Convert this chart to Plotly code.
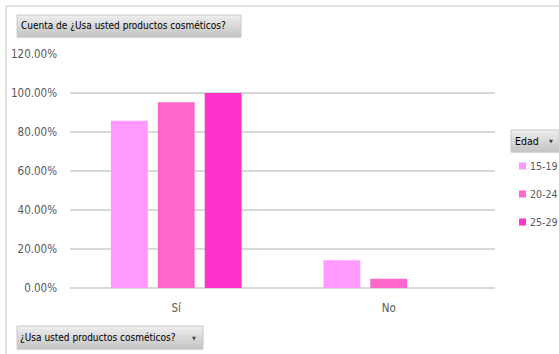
import plotly.graph_objects as go

categories = ["Sí", "No"]
series_names = ["15-19", "20-24", "25-29"]
values_15_19 = [85.71, 14.29]
values_20_24 = [95.24, 4.76]
values_25_29 = [100.0, 0.0]
tick_vals = [0, 20, 40, 60, 80, 100, 120]
tick_text = ["0.00%", "20.00%", "40.00%", "60.00%", "80.00%", "100.00%", "120.00%"]

colors = ["#FF99FF", "#FF66CC", "#FF33CC"]
series_values = [values_15_19, values_20_24, values_25_29]

W, H = 559, 354
L, R, T, B = 70, 64, 54, 66
PW, PH = W - L - R, H - T - B

def px(x):
    return (x - L) / PW

def py(y):
    return (H - B - y) / PH

FONT = "DejaVu Sans Condensed, Liberation Sans Narrow, sans-serif"

fig = go.Figure()
for i, (name, vals) in enumerate(zip(series_names, series_values)):
    fig.add_trace(go.Bar(
        x=categories, y=vals, name=name,
        marker=dict(color=colors[i], line=dict(width=0)),
    ))

shapes = []
# outer frame: top and left edges
shapes.append(dict(type="line", xref="paper", yref="paper",
                   x0=px(6), x1=px(559), y0=py(6), y1=py(6),
                   line=dict(color="#D9D9D9", width=1.5), layer="below"))
shapes.append(dict(type="line", xref="paper", yref="paper",
                   x0=px(6), x1=px(6), y0=py(6), y1=py(354),
                   line=dict(color="#D9D9D9", width=1.5), layer="below"))

def button(x0, y0, x1, y1):
    n = 8
    top = (236, 236, 236)
    bot = (198, 198, 198)
    h = (y1 - y0) / n
    for k in range(n):
        t = k / (n - 1)
        c = tuple(int(top[j] + (bot[j] - top[j]) * t) for j in range(3))
        shapes.append(dict(type="rect", xref="paper", yref="paper",
                           x0=px(x0), x1=px(x1), y0=py(y0 + k * h), y1=py(y0 + (k + 1) * h + 0.5),
                           line=dict(width=0), fillcolor="rgb(%d,%d,%d)" % c, layer="above"))
    shapes.append(dict(type="rect", xref="paper", yref="paper",
                       x0=px(x0), x1=px(x1), y0=py(y0), y1=py(y1),
                       line=dict(color="#C8C8C8", width=1), fillcolor="rgba(0,0,0,0)", layer="above"))

button(17, 15, 241, 37)
button(511, 130, 559, 152)
button(17, 326, 203, 349)

annotations = [
    dict(text="Cuenta de ¿Usa usted productos cosméticos?", xref="paper", yref="paper",
         x=px(19), y=py(26), xanchor="left", yanchor="middle", showarrow=False,
         font=dict(family=FONT, size=10, color="#000000")),
    dict(text="Edad", xref="paper", yref="paper",
         x=px(513), y=py(141), xanchor="left", yanchor="middle", showarrow=False,
         font=dict(family=FONT, size=10.5, color="#000000")),
    dict(text="▼", xref="paper", yref="paper",
         x=px(551), y=py(141), xanchor="center", yanchor="middle", showarrow=False,
         font=dict(family="DejaVu Sans", size=5, color="#404040")),
    dict(text="¿Usa usted productos cosméticos?", xref="paper", yref="paper",
         x=px(18), y=py(337.5), xanchor="left", yanchor="middle", showarrow=False,
         font=dict(family=FONT, size=10, color="#000000")),
    dict(text="▼", xref="paper", yref="paper",
         x=px(194), y=py(337.5), xanchor="center", yanchor="middle", showarrow=False,
         font=dict(family="DejaVu Sans", size=5, color="#404040")),
]

# manual legend (Edad)
legend_y = [166, 194, 222]
for name, col, yy in zip(series_names, colors, legend_y):
    shapes.append(dict(type="rect", xref="paper", yref="paper",
                       x0=px(519), x1=px(526), y0=py(yy - 3.5), y1=py(yy + 3.5),
                       line=dict(width=0), fillcolor=col, layer="above"))
    annotations.append(dict(text=name, xref="paper", yref="paper",
                            x=px(527.5), y=py(yy), xanchor="left", yanchor="middle", showarrow=False,
                            font=dict(family=FONT, size=10.5, color="#595959")))

fig.update_layout(
    width=W, height=H,
    margin=dict(l=L, r=R, t=T, b=B, autoexpand=False),
    paper_bgcolor="white", plot_bgcolor="white",
    barmode="group", bargap=0.338, bargroupgap=0.213,
    font=dict(family=FONT, size=11.5, color="#595959"),
    showlegend=False,
    xaxis=dict(showgrid=False, showline=False, ticks="", tickfont=dict(size=11.5, color="#595959"),
               ticklabelstandoff=11),
    yaxis=dict(range=[0, 120], tickvals=tick_vals, ticktext=tick_text,
               showgrid=True, gridcolor="#D9D9D9", gridwidth=1.5, zeroline=True,
               zerolinecolor="#D9D9D9", zerolinewidth=1.5, showline=False, ticks="",
               tickfont=dict(size=11.5, color="#595959"), ticklabelstandoff=12),
    shapes=shapes, annotations=annotations,
)

fig.write_html("out.html")
